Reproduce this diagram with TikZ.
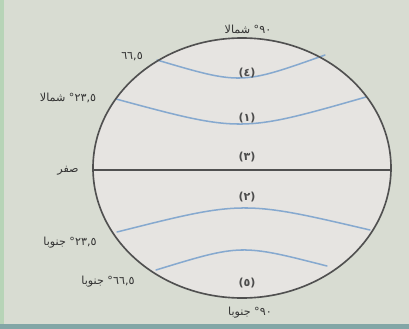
\documentclass[tikz,border=0pt]{standalone}
\usepackage{fontspec}
\newfontfamily\arabicfont[Script=Arabic]{DejaVu Sans}
\TeXXeTstate=1
\usepackage{xcolor}
\definecolor{paper}{HTML}{D8DCD2}
\definecolor{globefill}{HTML}{E6E4E1}
\definecolor{zoneline}{HTML}{86A9CF}
\definecolor{rim}{HTML}{505050}

\begin{document}
\begin{tikzpicture}[x=0.03cm,y=-0.03cm,line cap=round,
  lbl/.style={font=\arabicfont\fontsize{9.5}{11}\selectfont,text=black!80,inner sep=1pt},
  num/.style={font=\arabicfont\bfseries\fontsize{9.5}{11}\selectfont,text=black!70,inner sep=1pt},
  zone/.style={zoneline,line width=1.3pt},
  globe/.style={rim,line width=1.4pt}]
\fill[paper] (0,0) rectangle (409,329);
\fill[green!25!gray!45] (0,0) rectangle (4,329);
\fill[teal!40!gray!70] (0,324) rectangle (409,329);
\coordinate (c) at (242,168);
\fill[globefill] (c) ellipse [x radius=149,y radius=130];
\draw[zone] (157,60) .. controls (241,84.8) .. (325,55);
\draw[zone] (116,99) .. controls (241,132.7) .. (366,97);
\draw[zone] (117,232) .. controls (243,200.3) .. (370,230);
\draw[zone] (156,270) .. controls (241,244) .. (327,266);
\draw[globe] (c) ellipse [x radius=149,y radius=130];
\coordinate (eqW) at (93,170);
\coordinate (eqE) at (391,170);
\draw[globe] (eqW) -- (eqE);
\node[num] (z4) at (247,73) {(٤)};
\node[num] (z1) at (247,118) {(١)};
\node[num] (z3) at (247,157) {(٣)};
\node[num] (z2) at (247,197) {(٢)};
\node[num] (z5) at (247,283) {(٥)};
\node[lbl] (north) at (248,29) {\beginR\beginL ٩٠\endL° شمالا\endR};
\node[lbl] (arcticN) at (132,57) {\beginL ٦٦,٥\endL};
\node[lbl] (tropicN) at (68,98) {\beginR\beginL ٢٣,٥\endL° شمالا\endR};
\node[lbl] (zero) at (68,171) {\beginR صفر\endR};
\node[lbl] (tropicS) at (70,243) {\beginR\beginL ٢٣,٥\endL° جنوبا\endR};
\node[lbl] (arcticS) at (108,282) {\beginR\beginL ٦٦,٥\endL° جنوبا\endR};
\node[lbl] (south) at (250,313) {\beginR\beginL ٩٠\endL° جنوبا\endR};
\end{tikzpicture}
\end{document}
